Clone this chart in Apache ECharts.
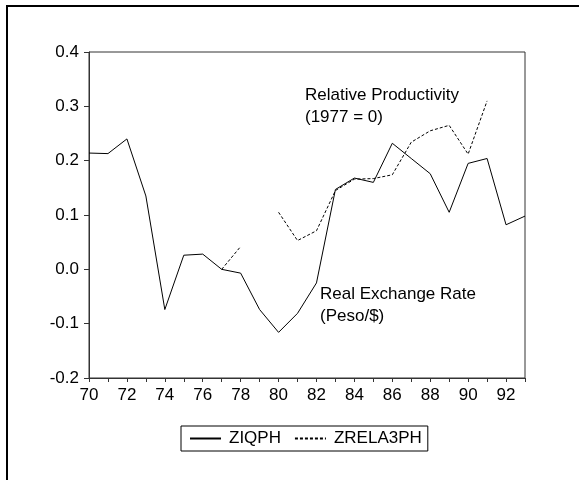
<!DOCTYPE html>
<html>
<head>
<meta charset="utf-8">
<script src="https://cdn.jsdelivr.net/npm/echarts@6/dist/echarts.min.js"></script>
<style>
  html, body { margin: 0; padding: 0; background: #fff; }
  #chart { width: 579px; height: 480px; }
</style>
</head>
<body>
<div id="chart"></div>
<script>
// years 1970..1993, shown as two digits
var years = ['70', '71', '72', '73', '74', '75', '76', '77', '78', '79', '80', '81',
  '82', '83', '84', '85', '86', '87', '88', '89', '90', '91', '92', '93']

// real exchange rate (solid)
var ziqph = [0.214, 0.213, 0.240, 0.135, -0.074, 0.026, 0.028, 0.000, -0.007, -0.074, -0.116, -0.081,
  -0.025, 0.147, 0.168, 0.160, 0.232, 0.204, 0.176, 0.105, 0.195, 0.204, 0.082, 0.098]

// relative productivity (dashed), starts at 1977
var zrela3ph = [null, null, null, null, null, null, null, 0.000, 0.042, null, 0.105, 0.053,
  0.071, 0.145, 0.166, 0.167, 0.174, 0.234, 0.255, 0.265, 0.212, 0.310, null, null]

var yTicks = { min: -0.2, max: 0.4, interval: 0.1 }

var font = 'Liberation Sans, Arial, sans-serif'
var ink = '#000'
var axisInk = '#333'

var chart = echarts.init(document.getElementById('chart'), null, { renderer: 'canvas' })

chart.setOption({
  animation: false,
  backgroundColor: '#fff',
  grid: {
    left: 89, top: 52, width: 436, height: 326,
    show: true, borderColor: axisInk, borderWidth: 1
  },
  xAxis: {
    type: 'category',
    data: years,
    boundaryGap: false,
    axisLine: { onZero: false, lineStyle: { color: axisInk, width: 1 } },
    axisTick: { show: true, interval: 0, length: 4, lineStyle: { color: axisInk } },
    axisLabel: { interval: 1, margin: 9, color: ink, fontFamily: font, fontSize: 17 },
    splitLine: { show: false }
  },
  yAxis: {
    type: 'value',
    min: yTicks.min,
    max: yTicks.max,
    interval: yTicks.interval,
    axisLine: { show: true, lineStyle: { color: axisInk, width: 1 } },
    axisTick: { show: true, length: 5, lineStyle: { color: axisInk } },
    axisLabel: {
      margin: 10, color: ink, fontFamily: font, fontSize: 17,
      formatter: function (v) { return v.toFixed(1) }
    },
    splitLine: { show: false }
  },
  legend: {
    left: 181, top: 426,
    data: ['ZIQPH', 'ZRELA3PH'],
    itemWidth: 31, itemHeight: 10, itemGap: 13,
    padding: [4, 6, 4, 8],
    borderColor: ink, borderWidth: 1, borderRadius: 0,
    itemStyle: { opacity: 0 },
    textStyle: { color: ink, fontFamily: font, fontSize: 17, padding: [0, 0, 0, 3] }
  },
  series: [
    {
      name: 'ZIQPH',
      type: 'line',
      data: ziqph,
      symbol: 'none',
      lineStyle: { color: ink, width: 1 },
      itemStyle: { color: ink }
    },
    {
      name: 'ZRELA3PH',
      type: 'line',
      data: zrela3ph,
      symbol: 'none',
      connectNulls: false,
      lineStyle: { color: ink, width: 1, type: [3, 2] },
      itemStyle: { color: ink }
    }
  ],
  graphic: [
    {
      type: 'rect',
      shape: { x: 7, y: 6, width: 700, height: 700 },
      style: { fill: null, stroke: ink, lineWidth: 2 },
      silent: true
    },
    {
      type: 'text',
      left: 305, top: 84,
      style: {
        text: 'Relative Productivity\n(1977 = 0)',
        font: '17px ' + font, fill: ink, lineHeight: 22
      }
    },
    {
      type: 'text',
      left: 320, top: 283,
      style: {
        text: 'Real Exchange Rate\n(Peso/$)',
        font: '17px ' + font, fill: ink, lineHeight: 22
      }
    }
  ]
})
</script>
</body>
</html>
